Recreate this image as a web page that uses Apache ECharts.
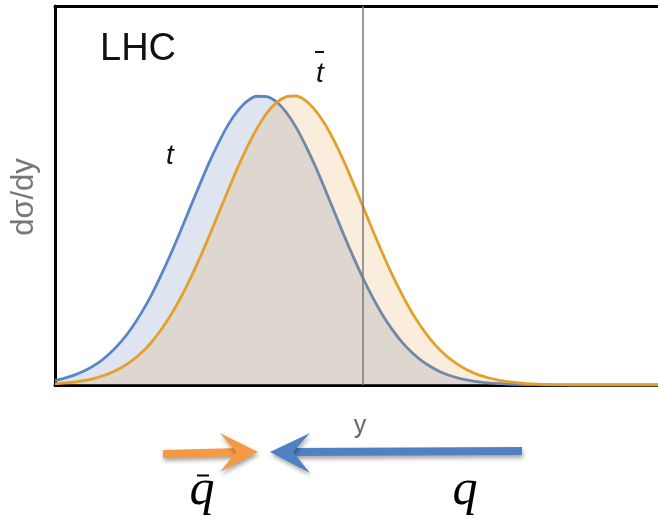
<!DOCTYPE html>
<html>
<head>
<meta charset="utf-8">
<script src="https://cdn.jsdelivr.net/npm/echarts@6/dist/echarts.min.js"></script>
<style>
  html, body { margin: 0; padding: 0; background: #fff; }
  #chart { width: 658px; height: 519px; }
</style>
</head>
<body>
<div id="chart"></div>
<script>
// Rapidity grid (arbitrary units, y = 0 at the vertical line)
const rapidity = [-4, -3.875, -3.75, -3.625, -3.5, -3.375, -3.25, -3.125, -3, -2.875, -2.75,
  -2.625, -2.5, -2.375, -2.25, -2.125, -2, -1.875, -1.75, -1.625, -1.5, -1.375, -1.25,
  -1.125, -1, -0.875, -0.75, -0.625, -0.5, -0.375, -0.25, -0.125, 0, 0.125, 0.25, 0.375,
  0.5, 0.625, 0.75, 0.875, 1, 1.125, 1.25, 1.375, 1.5, 1.625, 1.75, 1.875, 2, 2.125, 2.25,
  2.375, 2.5, 2.75, 3, 3.5, 3.83];

// dσ/dy for top quarks (normalised to the peak)
const topQuark = [0.016, 0.024, 0.034, 0.048, 0.066, 0.089, 0.119, 0.155, 0.199, 0.251,
  0.310, 0.378, 0.451, 0.529, 0.610, 0.690, 0.768, 0.838, 0.900, 0.948, 0.982, 0.998,
  0.997, 0.979, 0.943, 0.893, 0.830, 0.759, 0.681, 0.600, 0.519, 0.442, 0.369, 0.303,
  0.244, 0.193, 0.150, 0.115, 0.086, 0.064, 0.046, 0.033, 0.023, 0.016, 0.011, 0.007,
  0.005, 0.003, 0.002, 0.001, 0.001, 0, 0, 0, 0, 0, 0];

// dσ/dy for anti-top quarks
const antiTopQuark = [0.004, 0.007, 0.010, 0.015, 0.022, 0.032, 0.045, 0.062, 0.084, 0.112,
  0.147, 0.190, 0.240, 0.298, 0.364, 0.436, 0.513, 0.594, 0.674, 0.753, 0.825, 0.888,
  0.940, 0.976, 0.996, 0.999, 0.984, 0.951, 0.904, 0.844, 0.774, 0.697, 0.616, 0.535,
  0.457, 0.383, 0.316, 0.255, 0.203, 0.158, 0.121, 0.091, 0.068, 0.049, 0.035, 0.025,
  0.017, 0.012, 0.008, 0.005, 0.003, 0.002, 0.001, 0, 0, 0, 0];

const seriesNames = ['t', 't\u0304'];

const pairs = (ys) => rapidity.map((x, i) => [x, ys[i]]);

const chart = echarts.init(document.getElementById('chart'), null, { renderer: 'canvas' });

const frameLine = { show: true, onZero: false, lineStyle: { color: '#000', width: 3 } };
const arrowShadow = { shadowBlur: 4, shadowOffsetX: 1, shadowOffsetY: 3, shadowColor: 'rgba(0,0,0,0.35)' };
const serifItalic = 'italic 50px "Liberation Serif", "Times New Roman", serif';

chart.setOption({
  animation: false,
  backgroundColor: '#fff',
  grid: { left: 55, right: 0, top: 6, bottom: 134 },
  xAxis: [
    { type: 'value', min: -4, max: 3.83, position: 'bottom',
      axisLine: frameLine, axisTick: { show: false }, axisLabel: { show: false },
      splitLine: { show: false } },
    { type: 'value', min: -4, max: 3.83, position: 'top',
      axisLine: frameLine, axisTick: { show: false }, axisLabel: { show: false },
      splitLine: { show: false } }
  ],
  yAxis: {
    type: 'value', min: 0, max: 1.31,
    axisLine: frameLine, axisTick: { show: false }, axisLabel: { show: false },
    splitLine: { show: false }
  },
  series: [
    {
      name: seriesNames[0], type: 'line', data: pairs(topQuark),
      smooth: 0.25, showSymbol: false, z: 2,
      lineStyle: { color: '#5a86c4', width: 2.8 },
      areaStyle: { color: 'rgba(100,132,190,0.3)' },
      markLine: {
        silent: true, symbol: 'none', label: { show: false },
        lineStyle: { color: '#7a7a7a', width: 1.5, type: 'solid' },
        data: [{ xAxis: 0 }]
      }
    },
    {
      name: seriesNames[1], type: 'line', data: pairs(antiTopQuark),
      smooth: 0.25, showSymbol: false, z: 3,
      lineStyle: { color: '#e3a02c', width: 2.8 },
      areaStyle: { color: 'rgba(225,150,40,0.24)' }
    }
  ],
  graphic: [
    { type: 'text', left: 100, top: 31,
      style: { text: 'LHC', font: '38px "Liberation Sans", Arial, sans-serif', fill: '#111' } },
    { type: 'text', left: 166, top: 142,
      style: { text: 't', font: 'italic 28px "Liberation Sans", Arial, sans-serif', fill: '#111' } },
    // anti-top label: italic t with an overbar
    { type: 'text', left: 316, top: 60,
      style: { text: 't', font: 'italic 28px "Liberation Sans", Arial, sans-serif', fill: '#111' } },
    { type: 'line', shape: { x1: 315, y1: 52, x2: 324, y2: 52 },
      style: { stroke: '#111', lineWidth: 2 } },
    { type: 'text', x: 24, y: 197, rotation: Math.PI / 2,
      style: { text: 'd\u03c3/dy', font: '31px "Liberation Sans", Arial, sans-serif', fill: '#777',
        textAlign: 'center', textVerticalAlign: 'middle' } },
    { type: 'text', x: 360, y: 426,
      style: { text: 'y', font: '25px "Liberation Sans", Arial, sans-serif', fill: '#666',
        textAlign: 'center', textVerticalAlign: 'middle' } },
    // incoming antiquark (orange arrow, pointing right)
    { type: 'group', children: [
      { type: 'polyline', shape: { points: [[163, 454], [240, 452]] },
        style: Object.assign({ stroke: '#f49a45', lineWidth: 8 }, arrowShadow) },
      { type: 'polygon', shape: { points: [[258, 452], [220, 433], [236, 452], [220, 472]] },
        style: Object.assign({ fill: '#f49a45' }, arrowShadow) }
    ] },
    // incoming quark (blue arrow, pointing left)
    { type: 'group', children: [
      { type: 'polyline', shape: { points: [[522, 451], [290, 452]] },
        style: Object.assign({ stroke: '#5082c3', lineWidth: 8 }, arrowShadow) },
      { type: 'polygon', shape: { points: [[270, 452], [310, 433], [293, 452], [310, 473]] },
        style: Object.assign({ fill: '#5082c3' }, arrowShadow) }
    ] },
    // antiquark label: italic q with an overbar
    { type: 'text', x: 202, y: 466,
      style: { text: 'q', font: serifItalic, fill: '#000',
        textAlign: 'center', textVerticalAlign: 'top' } },
    { type: 'line', shape: { x1: 197, y1: 475.5, x2: 209, y2: 475.5 },
      style: { stroke: '#000', lineWidth: 2 } },
    { type: 'text', x: 465, y: 466,
      style: { text: 'q', font: serifItalic, fill: '#000',
        textAlign: 'center', textVerticalAlign: 'top' } }
  ]
});
</script>
</body>
</html>
